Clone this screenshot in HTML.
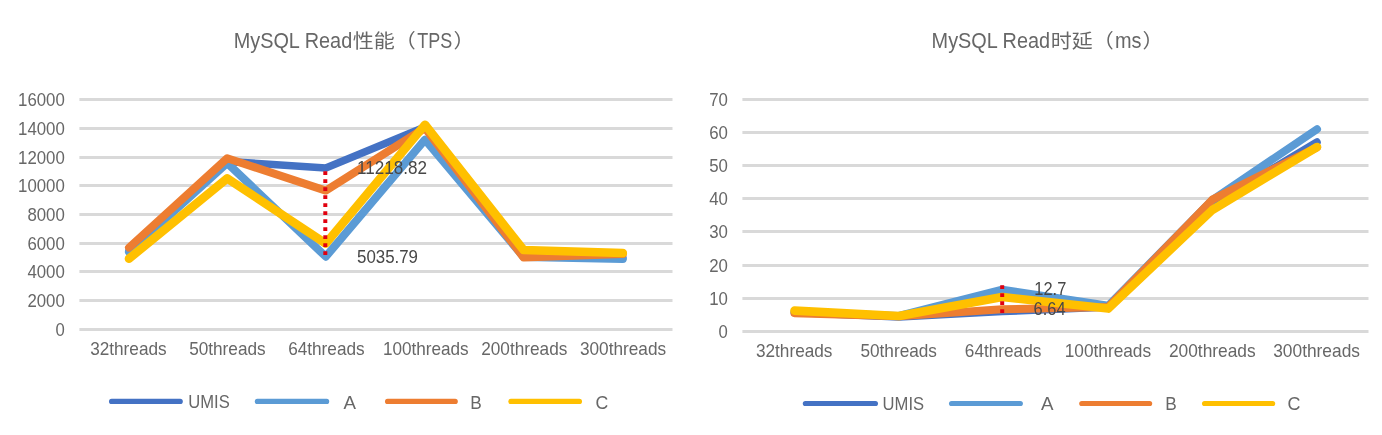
<!DOCTYPE html>
<html lang="zh-CN">
<head>
<meta charset="utf-8">
<title>MySQL Read</title>
<style>
html, body { margin: 0; padding: 0; background: #ffffff; }
body { width: 1382px; height: 435px; overflow: hidden; }
svg { display: block; }
text { font-family: "Liberation Sans", "Noto Sans CJK SC", sans-serif; fill: #676767; }
.grid line { stroke: #D9D9D9; stroke-width: 3; }
.series polyline { fill: none; stroke-linecap: round; stroke-linejoin: round; }
.legend line { stroke-width: 5.2; stroke-linecap: round; }
.ax { font-size: 18.5px; }
.title { font-size: 21.3px; }
.lbl { font-size: 18.3px; fill: #474747; }
.lg { font-size: 18.8px; }
</style>
</head>
<body>
<svg width="1382" height="435" viewBox="0 0 1382 435">
<rect x="0" y="0" width="1382" height="435" fill="#ffffff"/>

<g class="chart">
<text class="title" y="48.2"><tspan x="233.7" y="48.2" textLength="118.5" lengthAdjust="spacingAndGlyphs">MySQL Read</tspan><tspan x="352.8" y="47.5" font-size="19.4" textLength="63" lengthAdjust="spacingAndGlyphs">性能（</tspan><tspan x="417.2" y="48.2" textLength="35" lengthAdjust="spacingAndGlyphs">TPS</tspan><tspan x="453.5" y="47.5" font-size="19.4" textLength="21" lengthAdjust="spacingAndGlyphs">）</tspan></text>
<g class="grid">
<line x1="79.4" y1="329.50" x2="672.5" y2="329.50"/>
<line x1="79.4" y1="300.50" x2="672.5" y2="300.50"/>
<line x1="79.4" y1="271.50" x2="672.5" y2="271.50"/>
<line x1="79.4" y1="243.50" x2="672.5" y2="243.50"/>
<line x1="79.4" y1="214.50" x2="672.5" y2="214.50"/>
<line x1="79.4" y1="185.50" x2="672.5" y2="185.50"/>
<line x1="79.4" y1="157.50" x2="672.5" y2="157.50"/>
<line x1="79.4" y1="128.50" x2="672.5" y2="128.50"/>
<line x1="79.4" y1="99.50" x2="672.5" y2="99.50"/>
</g>
<g class="ax">
<text x="55.45" y="335.80" textLength="9.3" lengthAdjust="spacingAndGlyphs">0</text>
<text x="27.40" y="306.80" textLength="37.4" lengthAdjust="spacingAndGlyphs">2000</text>
<text x="27.40" y="277.80" textLength="37.4" lengthAdjust="spacingAndGlyphs">4000</text>
<text x="27.40" y="249.80" textLength="37.4" lengthAdjust="spacingAndGlyphs">6000</text>
<text x="27.40" y="220.80" textLength="37.4" lengthAdjust="spacingAndGlyphs">8000</text>
<text x="18.05" y="191.80" textLength="46.8" lengthAdjust="spacingAndGlyphs">10000</text>
<text x="18.05" y="163.80" textLength="46.8" lengthAdjust="spacingAndGlyphs">12000</text>
<text x="18.05" y="134.80" textLength="46.8" lengthAdjust="spacingAndGlyphs">14000</text>
<text x="18.05" y="105.80" textLength="46.8" lengthAdjust="spacingAndGlyphs">16000</text>
<text x="90.15" y="355.1" textLength="76.5" lengthAdjust="spacingAndGlyphs">32threads</text>
<text x="189.15" y="355.1" textLength="76.5" lengthAdjust="spacingAndGlyphs">50threads</text>
<text x="288.15" y="355.1" textLength="76.5" lengthAdjust="spacingAndGlyphs">64threads</text>
<text x="382.90" y="355.1" textLength="85.8" lengthAdjust="spacingAndGlyphs">100threads</text>
<text x="481.20" y="355.1" textLength="86.2" lengthAdjust="spacingAndGlyphs">200threads</text>
<text x="579.90" y="355.1" textLength="86.2" lengthAdjust="spacingAndGlyphs">300threads</text>
</g>
<g class="series">
<polyline stroke="#4472C4" stroke-width="7.6" points="129.00,251.00 227.20,161.50 325.80,168.00 425.00,127.00 523.60,256.00 622.80,258.00"/>
<polyline stroke="#5B9BD5" stroke-width="8" points="129.00,252.00 227.20,163.00 325.80,256.70 425.00,139.70 523.60,257.00 622.80,259.00"/>
<polyline stroke="#ED7D31" stroke-width="8" points="129.00,247.60 227.20,158.30 325.80,190.60 425.00,128.00 523.60,257.50 622.80,254.00"/>
<polyline stroke="#FFC000" stroke-width="8.6" points="129.00,258.70 227.20,178.30 325.80,243.60 425.00,124.70 523.60,250.00 622.80,253.00"/>
</g>
<line x1="325.3" y1="171.3" x2="325.3" y2="255.3" stroke="#E1000F" stroke-width="4" stroke-dasharray="3.8 4.2"/>
<text class="lbl" x="357" y="174" textLength="70" lengthAdjust="spacingAndGlyphs">11218.82</text>
<text class="lbl" x="357" y="263" textLength="61" lengthAdjust="spacingAndGlyphs">5035.79</text>
<g class="legend">
<line x1="111.6" y1="401.4" x2="180.2" y2="401.4" stroke="#4472C4"/>
<text class="lg" x="188.3" y="408.00" textLength="41.5" lengthAdjust="spacingAndGlyphs">UMIS</text>
<line x1="257.4" y1="401.4" x2="326.6" y2="401.4" stroke="#5B9BD5"/>
<text class="lg" x="343.6" y="408.90" textLength="12.5" lengthAdjust="spacingAndGlyphs">A</text>
<line x1="387.6" y1="401.4" x2="455.2" y2="401.4" stroke="#ED7D31"/>
<text class="lg" x="470.2" y="408.90" textLength="11.5" lengthAdjust="spacingAndGlyphs">B</text>
<line x1="510.9" y1="401.4" x2="579.4" y2="401.4" stroke="#FFC000"/>
<text class="lg" x="595.6" y="408.90" textLength="12.8" lengthAdjust="spacingAndGlyphs">C</text>
</g>
</g>
<g class="chart">
<text class="title" y="48.2"><tspan x="931.6" y="48.2" textLength="118.5" lengthAdjust="spacingAndGlyphs">MySQL Read</tspan><tspan x="1050.8" y="47.5" font-size="19.4" textLength="63" lengthAdjust="spacingAndGlyphs">时延（</tspan><tspan x="1115" y="48.2" textLength="26.5" lengthAdjust="spacingAndGlyphs">ms</tspan><tspan x="1142.5" y="47.5" font-size="19.4" textLength="21" lengthAdjust="spacingAndGlyphs">）</tspan></text>
<g class="grid">
<line x1="742.4" y1="331.50" x2="1368.5" y2="331.50"/>
<line x1="742.4" y1="298.50" x2="1368.5" y2="298.50"/>
<line x1="742.4" y1="265.50" x2="1368.5" y2="265.50"/>
<line x1="742.4" y1="231.50" x2="1368.5" y2="231.50"/>
<line x1="742.4" y1="198.50" x2="1368.5" y2="198.50"/>
<line x1="742.4" y1="165.50" x2="1368.5" y2="165.50"/>
<line x1="742.4" y1="132.50" x2="1368.5" y2="132.50"/>
<line x1="742.4" y1="99.50" x2="1368.5" y2="99.50"/>
</g>
<g class="ax">
<text x="718.55" y="337.80" textLength="9.3" lengthAdjust="spacingAndGlyphs">0</text>
<text x="709.20" y="304.80" textLength="18.7" lengthAdjust="spacingAndGlyphs">10</text>
<text x="709.20" y="271.80" textLength="18.7" lengthAdjust="spacingAndGlyphs">20</text>
<text x="709.20" y="237.80" textLength="18.7" lengthAdjust="spacingAndGlyphs">30</text>
<text x="709.20" y="204.80" textLength="18.7" lengthAdjust="spacingAndGlyphs">40</text>
<text x="709.20" y="171.80" textLength="18.7" lengthAdjust="spacingAndGlyphs">50</text>
<text x="709.20" y="138.80" textLength="18.7" lengthAdjust="spacingAndGlyphs">60</text>
<text x="709.20" y="105.80" textLength="18.7" lengthAdjust="spacingAndGlyphs">70</text>
<text x="755.95" y="357.2" textLength="76.5" lengthAdjust="spacingAndGlyphs">32threads</text>
<text x="860.45" y="357.2" textLength="76.5" lengthAdjust="spacingAndGlyphs">50threads</text>
<text x="964.85" y="357.2" textLength="76.5" lengthAdjust="spacingAndGlyphs">64threads</text>
<text x="1064.70" y="357.2" textLength="86.4" lengthAdjust="spacingAndGlyphs">100threads</text>
<text x="1168.90" y="357.2" textLength="86.8" lengthAdjust="spacingAndGlyphs">200threads</text>
<text x="1273.20" y="357.2" textLength="86.8" lengthAdjust="spacingAndGlyphs">300threads</text>
</g>
<g class="series">
<polyline stroke="#4472C4" stroke-width="7.6" points="794.50,312.50 898.90,317.00 1002.20,311.50 1108.20,307.00 1212.30,204.50 1317.00,142.10"/>
<polyline stroke="#5B9BD5" stroke-width="8" points="794.50,312.00 898.90,316.00 1002.20,289.60 1108.20,305.70 1212.30,200.00 1317.00,129.30"/>
<polyline stroke="#ED7D31" stroke-width="8" points="794.50,313.20 898.90,316.30 1002.20,309.30 1108.20,307.00 1212.30,199.70 1317.00,147.30"/>
<polyline stroke="#FFC000" stroke-width="8.6" points="794.50,310.60 898.90,316.00 1002.20,297.00 1108.20,308.60 1212.30,210.00 1317.00,147.00"/>
</g>
<line x1="1002.2" y1="285.2" x2="1002.2" y2="313.2" stroke="#E1000F" stroke-width="4" stroke-dasharray="3.8 4.2"/>
<text class="lbl" x="1034.3" y="294.7" textLength="32" lengthAdjust="spacingAndGlyphs">12.7</text>
<text class="lbl" x="1033.6" y="315.0" textLength="32" lengthAdjust="spacingAndGlyphs">6.64</text>
<g class="legend">
<line x1="805.4" y1="403.5" x2="875.4" y2="403.5" stroke="#4472C4"/>
<text class="lg" x="882.6" y="409.50" textLength="41.5" lengthAdjust="spacingAndGlyphs">UMIS</text>
<line x1="951.6" y1="403.5" x2="1020.3" y2="403.5" stroke="#5B9BD5"/>
<text class="lg" x="1041" y="409.50" textLength="12.5" lengthAdjust="spacingAndGlyphs">A</text>
<line x1="1081.8" y1="403.5" x2="1149.6" y2="403.5" stroke="#ED7D31"/>
<text class="lg" x="1165.2" y="409.50" textLength="11.5" lengthAdjust="spacingAndGlyphs">B</text>
<line x1="1204.6" y1="403.5" x2="1272.6" y2="403.5" stroke="#FFC000"/>
<text class="lg" x="1287.5" y="409.50" textLength="13" lengthAdjust="spacingAndGlyphs">C</text>
</g>
</g>
</svg>
</body>
</html>
